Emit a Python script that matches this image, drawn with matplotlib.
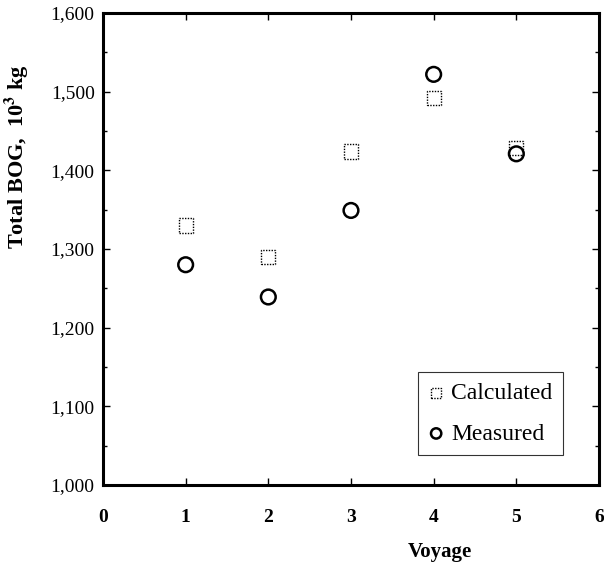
import matplotlib
matplotlib.use("Agg")
import matplotlib.pyplot as plt
from matplotlib.ticker import MultipleLocator, FuncFormatter

voyage = [1, 2, 3, 4, 5]
calculated = [1330, 1290, 1424, 1492, 1428]
measured = [1280, 1239, 1349, 1522, 1421]

plt.rcParams['font.family'] = ['Liberation Serif', 'DejaVu Serif']
plt.rcParams['mathtext.fontset'] = 'stix'

fig = plt.figure(figsize=(6.04, 5.65), dpi=100)
ax = fig.add_axes([0.1705, 0.1416, 0.8212, 0.8354])

ax.scatter(voyage, calculated, marker='s', s=105, facecolors='white',
           edgecolors='black', linewidths=1.0, linestyles=(0, (1, 1)),
           label='Calculated', zorder=3)
ax.scatter(voyage, measured, marker='o', s=112, facecolors='none',
           edgecolors='black', linewidths=1.8,
           label='Measured', zorder=4)

ax.set_xlim(0, 6)
ax.set_ylim(1000, 1600)
ax.xaxis.set_major_locator(MultipleLocator(1))
ax.yaxis.set_major_locator(MultipleLocator(100))
ax.yaxis.set_minor_locator(MultipleLocator(50))
ax.yaxis.set_major_formatter(FuncFormatter(lambda v, p: f"{int(v):,}"))

ax.tick_params(which='both', direction='in', top=True, right=True,
               labelsize=14, width=1)
ax.tick_params(which='major', length=5)
ax.tick_params(which='minor', length=3)
ax.tick_params(axis='x', pad=17)
ax.tick_params(axis='y', pad=6)
for t in ax.get_xticklabels():
    t.set_fontweight('bold')

for s in ax.spines.values():
    s.set_linewidth(2.2)

ax.set_xlabel('Voyage', fontsize=15, fontweight='bold', labelpad=12, x=0.68)
ax.set_ylabel('Total BOG,  10$^\\mathbf{3}$ kg', fontsize=16, fontweight='bold',
              labelpad=14, y=0.695)

leg = ax.legend(loc='lower right', bbox_to_anchor=(0.952, 0.038), fontsize=17,
                frameon=True, fancybox=False, edgecolor='black',
                handlelength=0.6, handletextpad=0.35, borderpad=0.45,
                labelspacing=0.8, markerscale=0.7, scatterpoints=1)
leg.get_frame().set_linewidth(0.8)

fig.savefig('out.png', dpi=100)
